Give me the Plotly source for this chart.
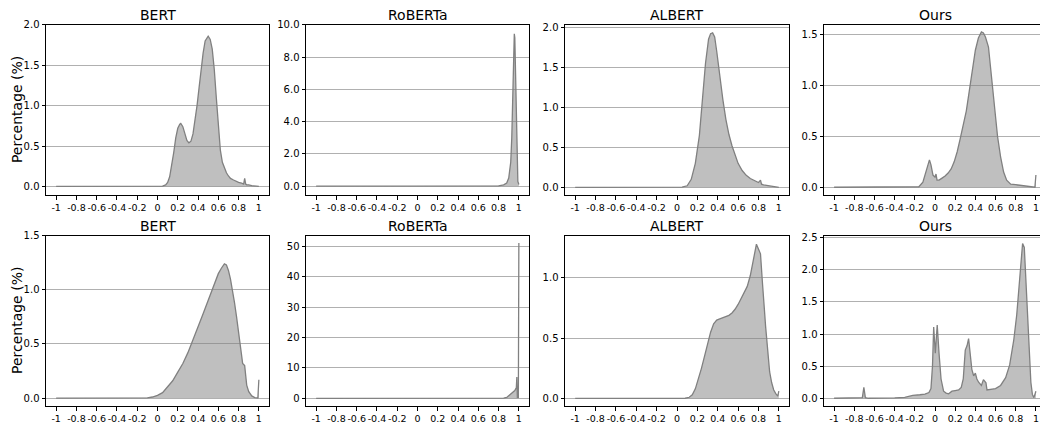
import plotly.graph_objects as go

titles = ["BERT", "RoBERTa", "ALBERT", "Ours", "BERT", "RoBERTa", "ALBERT", "Ours"]

tick_vals = [-1, -0.8, -0.6, -0.4, -0.2, 0, 0.2, 0.4, 0.6, 0.8, 1]
tick_text = ["-1", "-0.8", "-0.6", "-0.4", "-0.2", "0", "0.2", "0.4", "0.6", "0.8", "1"]

# Top row
bert_a_x = [-1, 0.0, 0.05, 0.08, 0.1, 0.12, 0.14, 0.16, 0.18, 0.2, 0.22, 0.23, 0.25, 0.27, 0.29, 0.31, 0.33,
            0.35, 0.37, 0.39, 0.41, 0.43, 0.45, 0.47, 0.49, 0.5, 0.51, 0.52, 0.54, 0.56, 0.58, 0.6, 0.62,
            0.64, 0.66, 0.68, 0.7, 0.72, 0.75, 0.78, 0.8, 0.83, 0.85, 0.86, 0.87, 0.88, 0.9, 0.93, 0.96, 1.0]
bert_a_y = [0, 0, 0.005, 0.02, 0.05, 0.12, 0.25, 0.42, 0.6, 0.72, 0.77, 0.78, 0.74, 0.65, 0.57, 0.54, 0.56,
            0.65, 0.8, 1.0, 1.22, 1.45, 1.65, 1.8, 1.85, 1.86, 1.84, 1.82, 1.7, 1.45, 1.1, 0.75, 0.45,
            0.3, 0.22, 0.17, 0.13, 0.1, 0.08, 0.06, 0.05, 0.04, 0.03, 0.1, 0.03, 0.02, 0.02, 0.01, 0.005, 0]

roberta_a_x = [-1, 0.7, 0.8, 0.85, 0.88, 0.9, 0.92, 0.93, 0.94, 0.95, 0.955, 0.96, 0.97, 0.98, 0.99, 1.0]
roberta_a_y = [0, 0, 0.02, 0.08, 0.2, 0.5, 1.5, 3.0, 6.0, 8.8, 9.45, 9.2, 6.5, 2.5, 0.3, 0.1]

albert_a_x = [-1, 0.0, 0.05, 0.1, 0.14, 0.18, 0.22, 0.25, 0.28, 0.31, 0.33, 0.35, 0.37, 0.39, 0.42, 0.45,
              0.48, 0.51, 0.54, 0.57, 0.6, 0.64, 0.68, 0.72, 0.76, 0.8, 0.82, 0.83, 0.85, 0.9, 0.95, 1.0]
albert_a_y = [0, 0, 0.002, 0.02, 0.1, 0.3, 0.65, 1.1, 1.55, 1.85, 1.92, 1.93, 1.88, 1.7, 1.38, 1.1,
              0.85, 0.66, 0.52, 0.4, 0.3, 0.21, 0.15, 0.11, 0.08, 0.06, 0.09, 0.04, 0.03, 0.02, 0.01, 0.0]

ours_a_x = [-1, -0.2, -0.16, -0.12, -0.09, -0.07, -0.055, -0.04, -0.02, 0.0, 0.01, 0.02, 0.04, 0.07, 0.1,
            0.13, 0.16, 0.19, 0.22, 0.25, 0.28, 0.31, 0.34, 0.37, 0.4, 0.43, 0.46, 0.48, 0.5, 0.53, 0.56,
            0.59, 0.62, 0.65, 0.68, 0.71, 0.75, 0.8, 0.85, 0.9, 0.95, 0.99, 1.0]
ours_a_y = [0, 0, 0.005, 0.05, 0.15, 0.24, 0.27, 0.22, 0.12, 0.1, 0.13, 0.07, 0.07, 0.09, 0.11,
            0.14, 0.18, 0.25, 0.35, 0.48, 0.6, 0.75, 0.95, 1.15, 1.35, 1.47, 1.53, 1.52, 1.48, 1.38, 1.1,
            0.78, 0.5, 0.3, 0.15, 0.07, 0.03, 0.025, 0.02, 0.015, 0.005, 0.0, 0.12]

# Bottom row
bert_b_x = [-1, -0.2, -0.1, -0.05, 0.0, 0.05, 0.1, 0.15, 0.2, 0.25, 0.3, 0.35, 0.4, 0.45, 0.5, 0.55, 0.6,
            0.63, 0.66, 0.68, 0.7, 0.72, 0.74, 0.76, 0.78, 0.8, 0.82, 0.84, 0.86, 0.87, 0.88, 0.9, 0.93,
            0.96, 0.99, 1.0]
bert_b_y = [0, 0, 0.002, 0.01, 0.025, 0.05, 0.1, 0.16, 0.24, 0.32, 0.42, 0.55, 0.66, 0.78, 0.9, 1.03, 1.15,
            1.2, 1.24, 1.23, 1.18, 1.1, 1.0, 0.88, 0.75, 0.6, 0.45, 0.32, 0.3, 0.2, 0.12, 0.06, 0.02,
            0.005, 0.0, 0.17]

roberta_b_x = [-1, 0.7, 0.8, 0.85, 0.88, 0.9, 0.92, 0.94, 0.96, 0.97, 0.975, 0.98, 0.985, 0.995, 1.0]
roberta_b_y = [0, 0, 0.02, 0.1, 0.3, 0.8, 1.3, 2.0, 2.6, 3.2, 3.5, 7.0, 0.3, 0.3, 51.0]

albert_b_x = [-1, 0.0, 0.08, 0.12, 0.15, 0.18, 0.21, 0.24, 0.27, 0.3, 0.33, 0.36, 0.39, 0.42, 0.45, 0.48,
              0.51, 0.54, 0.57, 0.6, 0.63, 0.66, 0.69, 0.72, 0.75, 0.77, 0.78, 0.8, 0.82, 0.84, 0.85, 0.86,
              0.87, 0.89, 0.91, 0.93, 0.95, 0.97, 0.99, 1.0]
albert_b_y = [0, 0, 0.002, 0.01, 0.03, 0.08, 0.16, 0.25, 0.35, 0.45, 0.55, 0.62, 0.65, 0.66, 0.67, 0.68,
              0.69, 0.71, 0.74, 0.78, 0.83, 0.88, 0.93, 1.02, 1.15, 1.25, 1.28, 1.24, 1.2, 0.95, 0.78, 0.72,
              0.6, 0.38, 0.22, 0.13, 0.07, 0.04, 0.02, 0.06]

ours_b_x = [-1, -0.75, -0.72, -0.705, -0.69, -0.66, -0.5, -0.4, -0.3, -0.22, -0.15, -0.1, -0.06, -0.04,
            -0.025, -0.013, 0.003, 0.022, 0.04, 0.06, 0.085, 0.11, 0.135, 0.168, 0.2, 0.234, 0.26, 0.28,
            0.3, 0.318, 0.333, 0.35, 0.365, 0.383, 0.4, 0.415, 0.432, 0.46, 0.48, 0.49, 0.505, 0.515,
            0.55, 0.6, 0.65, 0.7, 0.74, 0.78, 0.81, 0.83, 0.85, 0.868, 0.885, 0.9, 0.915, 0.935, 0.95,
            0.965, 0.98, 1.0]
ours_b_y = [0, 0, 0.01, 0.17, 0.01, 0.0, 0.0, 0.005, 0.015, 0.045, 0.055, 0.065, 0.09, 0.15,
            0.5, 1.11, 0.7, 1.14, 0.7, 0.3, 0.11, 0.08, 0.07, 0.11, 0.12, 0.13, 0.17, 0.3,
            0.75, 0.82, 0.93, 0.62, 0.45, 0.35, 0.39, 0.3, 0.25, 0.2, 0.29, 0.27, 0.24, 0.13,
            0.14, 0.15, 0.2, 0.32, 0.52, 0.9, 1.3, 1.65, 2.0, 2.41, 2.35, 1.85, 1.2, 0.6, 0.25,
            0.06, 0.01, 0.11]

series = [(bert_a_x, bert_a_y), (roberta_a_x, roberta_a_y), (albert_a_x, albert_a_y), (ours_a_x, ours_a_y),
          (bert_b_x, bert_b_y), (roberta_b_x, roberta_b_y), (albert_b_x, albert_b_y), (ours_b_x, ours_b_y)]

y_ranges = [[-0.11, 2.0], [-0.57, 10.0], [-0.1, 2.03], [-0.08, 1.6],
            [-0.076, 1.5], [-2.6, 53.4], [-0.065, 1.35], [-0.125, 2.53]]
y_ticks = [[0, 0.5, 1.0, 1.5, 2.0], [0, 2, 4, 6, 8, 10], [0, 0.5, 1.0, 1.5, 2.0], [0, 0.5, 1.0, 1.5],
           [0, 0.5, 1.0, 1.5], [0, 10, 20, 30, 40, 50], [0, 0.5, 1.0], [0, 0.5, 1.0, 1.5, 2.0, 2.5]]
y_formats = [".1f", ".1f", ".1f", ".1f", ".1f", "d", ".1f", ".1f"]

# page body has an 8px margin: draw the figure 8px smaller and shift coordinates
OFF = 8
W, H = 1048 - OFF, 427 - OFF
x_pix = [(46, 269), (306, 529), (565, 789), (824, 1046)]
y_pix = [(19, 192), (233, 406)]

fig = go.Figure()
layout = dict(width=W, height=H, margin=dict(l=0, r=0, t=0, b=0),
              paper_bgcolor="white", plot_bgcolor="white", showlegend=False,
              font=dict(family="DejaVu Sans", color="black"))
annotations = []

for i, (xs, ys) in enumerate(series):
    n = i + 1
    row, col = divmod(i, 4)
    xa = "x" if n == 1 else f"x{n}"
    ya = "y" if n == 1 else f"y{n}"
    fig.add_trace(go.Scatter(x=xs, y=ys, xaxis=xa, yaxis=ya, mode="lines",
                             fill="tozeroy", fillcolor="rgba(128,128,128,0.5)",
                             line=dict(color="rgb(128,128,128)", width=1.3)))
    x0, x1 = x_pix[col][0] - OFF, x_pix[col][1] - OFF
    t0, t1 = y_pix[row][0] - OFF, y_pix[row][1] - OFF
    xdom = [x0 / W, min(x1 / W, 1.0)]
    ydom = [1 - t1 / H, 1 - t0 / H]
    layout["xaxis" if n == 1 else f"xaxis{n}"] = dict(
        domain=xdom, anchor=ya, range=[-1.1, 1.1], tickmode="array",
        tickvals=tick_vals, ticktext=tick_text, tickangle=0, showgrid=False, zeroline=False,
        showline=True, mirror=True, linecolor="black", linewidth=1,
        ticks="outside", ticklen=3.5, tickcolor="black",
        tickfont=dict(size=9.5, family="DejaVu Sans", color="black"))
    layout["yaxis" if n == 1 else f"yaxis{n}"] = dict(
        domain=ydom, anchor=xa, range=y_ranges[i], tickmode="array",
        tickvals=y_ticks[i], tickformat=y_formats[i], showgrid=True,
        gridcolor="#b0b0b0", gridwidth=1, zeroline=False,
        showline=True, mirror=True, linecolor="black", linewidth=1,
        ticks="outside", ticklen=3.5, tickcolor="black",
        tickfont=dict(size=10, family="DejaVu Sans", color="black"))
    annotations.append(dict(text=titles[i], x=(x0 + x1) / 2 / W, y=1 - (t0 - 1) / H,
                            xref="paper", yref="paper", xanchor="center", yanchor="bottom",
                            borderpad=0, showarrow=False,
                            font=dict(size=14, family="DejaVu Sans", color="black")))

for r in y_pix:
    t0, t1 = r[0] - OFF, r[1] - OFF
    annotations.append(dict(text="Percentage (%)", x=(17 - OFF) / W, y=1 - (t0 + t1) / 2 / H,
                            xref="paper", yref="paper", xanchor="center", yanchor="middle",
                            textangle=-90, borderpad=0, showarrow=False,
                            font=dict(size=14, family="DejaVu Sans", color="black")))

layout["annotations"] = annotations
fig.update_layout(**layout)
fig.write_html("out.html")
